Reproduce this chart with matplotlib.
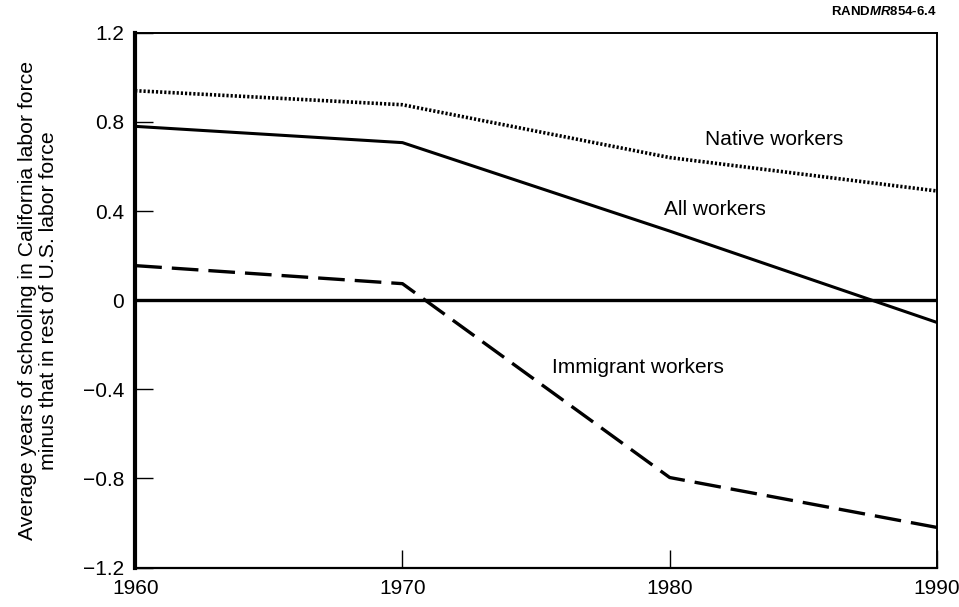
import numpy as np
import matplotlib.pyplot as plt

plt.rcParams['font.family'] = ['Liberation Sans', 'DejaVu Sans']
plt.rcParams['mathtext.fontset'] = 'custom'
plt.rcParams['mathtext.it'] = 'Liberation Sans:italic:bold'
plt.rcParams['mathtext.rm'] = 'Liberation Sans:bold'

years = [1960, 1970, 1980, 1990]
native = [0.94, 0.877, 0.64, 0.49]
all_workers = [0.78, 0.707, 0.31, -0.1]
immigrant = [0.155, 0.074, -0.796, -1.02]

yticks = [1.2, 0.8, 0.4, 0, -0.4, -0.8, -1.2]
ylabels = ['1.2', '0.8', '0.4', '0', '\u22120.4', '\u22120.8', '\u22121.2']

fig = plt.figure(figsize=(9.59, 6.07), dpi=100)
ax = fig.add_axes([0.141, 0.065, 0.836, 0.881])

ax.axhline(0, color='black', lw=2.4)
ax.plot(years, native, color='black', lw=2.6, linestyle=(0, (0.6, 0.55)))
ax.plot(years, all_workers, color='black', lw=2.2)
ax.plot(years, immigrant, color='black', lw=2.4, linestyle=(0, (8, 3)))

ax.text(1983.9, 0.72, 'Native workers', fontsize=15, ha='center', va='center')
ax.text(1981.7, 0.405, 'All workers', fontsize=15, ha='center', va='center')
ax.text(1978.8, -0.3, 'Immigrant workers', fontsize=15, ha='center', va='center')

ax.set_xlim(1960, 1990)
ax.set_ylim(-1.2, 1.2)
ax.set_xticks(years)
ax.set_xticklabels([str(y) for y in years], fontsize=15)
ax.set_yticks(yticks)
ax.set_yticklabels(ylabels, fontsize=15)
ax.tick_params(axis='both', direction='in', length=13, width=1)
ax.tick_params(axis='x', pad=8)
ax.tick_params(axis='y', pad=8)

ax.spines['left'].set_linewidth(3)
ax.spines['bottom'].set_linewidth(1.6)
ax.spines['top'].set_linewidth(1.4)
ax.spines['right'].set_linewidth(1.4)

ax.set_ylabel('Average years of schooling in California labor force\nminus that in rest of U.S. labor force',
              fontsize=15.3, labelpad=18, linespacing=1.1)

fig.text(0.977, 0.992, r'RAND$\mathit{MR854\text{-}6.4}$', fontsize=9.5, ha='right', va='top', fontweight='bold')

fig.savefig('out.png', dpi=100)
